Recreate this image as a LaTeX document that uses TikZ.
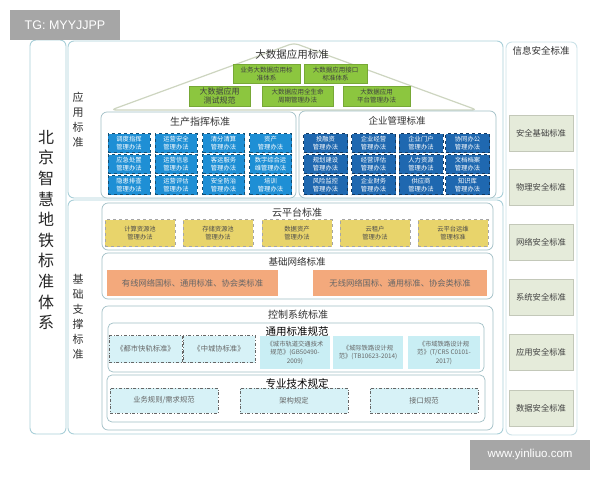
\documentclass[tikz,border=0pt]{standalone}
\usepackage{fontspec}
\setmainfont{Noto Sans CJK SC}
\newfontfamily\wmfont{Liberation Sans}
\usepackage{tikz}

\definecolor{framec}{HTML}{A9CFD8}
\definecolor{roofc}{HTML}{CDD5C0}
\definecolor{bdgreen}{HTML}{8CC63F}
\definecolor{prodblue}{HTML}{1E8FD5}
\definecolor{entblue}{HTML}{1F68B0}
\definecolor{cloudy}{HTML}{E8D46B}
\definecolor{neto}{HTML}{F3A97C}
\definecolor{ctrlc}{HTML}{C9EEF4}
\definecolor{secg}{HTML}{E5EBDA}
\definecolor{wmgray}{HTML}{A6A6A6}

\begin{document}
\begin{tikzpicture}[x=1pt,y=-1pt,
		panel/.style={draw=framec,line width=0.9pt,rounded corners=6pt,fill=white},
		subpanel/.style={draw=framec!80!gray,line width=0.7pt,rounded corners=6pt,fill=white},
		roof/.style={draw=roofc,line width=1.2pt,rounded corners=5pt,fill=white},
		title/.style={text=black!80,font=\fontsize{10}{12}\selectfont},
		vtext/.style={text=black!80,align=center,font=\fontsize{11}{15}\selectfont},
		greencell/.style={rectangle,draw=bdgreen!85!black,fill=bdgreen,text=black!75,align=center,inner sep=0pt,minimum height=19pt,font=\fontsize{6.5}{8}\selectfont},
		prodcell/.style={rectangle,draw=prodblue!55!black,dashed,fill=prodblue,text=white,align=center,inner sep=0pt,minimum width=42pt,minimum height=19pt,font=\fontsize{6.3}{8}\selectfont},
		entcell/.style={prodcell,fill=entblue,draw=entblue!55!black,minimum width=44pt},
		cloudcell/.style={rectangle,draw=gray!70,dashed,fill=cloudy,text=black!70,align=center,inner sep=0pt,minimum width=70pt,minimum height=27pt,font=\fontsize{6.3}{8.5}\selectfont},
		netcell/.style={rectangle,fill=neto,text=black!60,inner sep=0pt,minimum height=26pt,font=\fontsize{8.3}{10}\selectfont},
		stdcell/.style={rectangle,fill=ctrlc,text=black!60,align=center,inner sep=0pt,minimum width=70pt,minimum height=33pt,font=\fontsize{6.3}{8.5}\selectfont},
		dotcell/.style={stdcell,draw=black!60,dash dot,fill=ctrlc!75,minimum height=27pt,font=\fontsize{7.3}{9}\selectfont},
		seccell/.style={rectangle,fill=secg,draw=secg!85!black,text=black!75,inner sep=0pt,minimum width=64pt,minimum height=36pt,font=\fontsize{8.3}{10}\selectfont},
		wmark/.style={rectangle,fill=wmgray,text=white,inner sep=0pt,font=\wmfont}
	]
		\useasboundingbox (0,0) rectangle (600,480);
%		\draw[help lines,step=20] (0,0) grid (600,480);

		% frames
		\draw[panel] (30,40) rectangle (66,434);
		\draw[panel] (68,41) rectangle (503,198);
		\draw[panel] (68,200) rectangle (503,434);
		\draw[panel,draw=framec!60] (506,42) rectangle (577,435);
		\path (46,230) node(root) [align=center,text=black!85,font=\fontsize{16}{20.6}\selectfont] {北\\京\\智\\慧\\地\\铁\\标\\准\\体\\系};
		\path (78,120) node(app) [vtext] {应\\用\\标\\准};
		\path (78,317) node(base) [vtext] {基\\础\\支\\撑\\标\\准};

		% big data roof
		\draw[roof] (111,110) -- (294,43) -- (477,110) -- cycle;
		\path (292,55) node(bigdata) [title,font=\fontsize{10.5}{12}\selectfont] {大数据应用标准};
		\path (266.5,74) node(bd_sys) [greencell,minimum width=67pt] {业务大数据应用标\\准体系};
		\path (335.5,74) node(bd_api) [greencell,minimum width=63pt] {大数据应用接口\\标准体系};
		\path (219.5,96) node(bd_test) [greencell,minimum width=61pt,minimum height=20pt,font=\fontsize{8}{9.5}\selectfont] {大数据应用\\测试规范};
		\path (297.5,96) node(bd_life) [greencell,minimum width=71pt,minimum height=20pt] {大数据应用全生命\\周期管理办法};
		\path (376.5,96) node(bd_plat) [greencell,minimum width=67pt,minimum height=20pt] {大数据应用\\平台管理办法};

		% production and enterprise
		\draw[subpanel] (101,112) rectangle (296,198);
		\draw[subpanel] (299,111) rectangle (496,198);
		\path (200,122) node(prod) [title] {生产指挥标准};
		\path (397,121) node(ent) [title,font=\fontsize{9.5}{12}\selectfont] {企业管理标准};
		\path (129,143) node(p11) [prodcell] {调度指挥\\管理办法};
		\path (176,143) node(p12) [prodcell] {运营安全\\管理办法};
		\path (223.5,143) node(p13) [prodcell] {清分清算\\管理办法};
		\path (270.5,143) node(p14) [prodcell] {资产\\管理办法};
		\path (129,164) node(p21) [prodcell] {应急处置\\管理办法};
		\path (176,164) node(p22) [prodcell] {运营信息\\管理办法};
		\path (223.5,164) node(p23) [prodcell] {客运服务\\管理办法};
		\path (270.5,164) node(p24) [prodcell] {数字综合运\\维管理办法};
		\path (129,185) node(p31) [prodcell] {隐患排查\\管理办法};
		\path (176,185) node(p32) [prodcell] {运营评估\\管理办法};
		\path (223.5,185) node(p33) [prodcell] {安全防治\\管理办法};
		\path (270.5,185) node(p34) [prodcell] {培训\\管理办法};
		\path (325.5,143) node(e11) [entcell] {投融资\\管理办法};
		\path (373.5,143) node(e12) [entcell] {企业经营\\管理办法};
		\path (421,143) node(e13) [entcell] {企业门户\\管理办法};
		\path (467.5,143) node(e14) [entcell] {协同办公\\管理办法};
		\path (325.5,164) node(e21) [entcell] {规划建设\\管理办法};
		\path (373.5,164) node(e22) [entcell] {经营评估\\管理办法};
		\path (421,164) node(e23) [entcell] {人力资源\\管理办法};
		\path (467.5,164) node(e24) [entcell] {文档档案\\管理办法};
		\path (325.5,185) node(e31) [entcell] {风险监控\\管理办法};
		\path (373.5,185) node(e32) [entcell] {企业财务\\管理办法};
		\path (421,185) node(e33) [entcell] {供应商\\管理办法};
		\path (467.5,185) node(e34) [entcell] {知识库\\管理办法};

		% cloud platform
		\draw[subpanel] (102,203) rectangle (493,250);
		\path (297,213) node(cloud) [title] {云平台标准};
		\path (140,233) node(cl_calc) [cloudcell] {计算资源池\\管理办法};
		\path (218,233) node(cl_store) [cloudcell] {存储资源池\\管理办法};
		\path (297,233) node(cl_data) [cloudcell] {数据资产\\管理办法};
		\path (375,233) node(cl_user) [cloudcell] {云租户\\管理办法};
		\path (453,233) node(cl_ops) [cloudcell] {云平台运维\\管理标准};

		% basic network
		\draw[subpanel] (102,253) rectangle (493,299);
		\path (297,262) node(net) [title,font=\fontsize{9.5}{12}\selectfont] {基础网络标准};
		\path (192.5,283) node(net_wire) [netcell,minimum width=171pt] {有线网络国标、通用标准、协会类标准};
		\path (400,283) node(net_air) [netcell,minimum width=174pt] {无线网络国标、通用标准、协会类标准};

		% control system
		\draw[subpanel] (102,306) rectangle (493,430);
		\path (298,315) node(ctrl) [title] {控制系统标准};
		\draw[subpanel,rounded corners=5pt] (108,323) rectangle (484,372);
		\path (297,332) node(common) [title,text=black,font=\fontsize{10.5}{12}\selectfont] {通用标准规范};
		\path (145.5,349) node(std_city) [dotcell,minimum width=73pt] {《都市快轨标准》};
		\path (219,349) node(std_assoc) [dotcell,minimum width=72pt] {《中城协标准》};
		\path (295,352.5) node(std_gb) [stdcell] {《城市轨道交通技术\\规范》(GB50490-\\2009)};
		\path (368,352.5) node(std_tb) [stdcell] {《城际铁路设计规\\范》(TB10623-2014)};
		\path (444,352.5) node(std_crs) [stdcell,minimum width=72pt] {《市域铁路设计规\\范》(T/CRS C0101-\\2017)};
		\draw[subpanel,rounded corners=5pt] (107,375) rectangle (485,422);
		\path (297,383) node(tech) [title,text=black,font=\fontsize{10.5}{12}\selectfont] {专业技术规定};
		\path (164,400.5) node(tech_biz) [dotcell,minimum width=108pt,minimum height=25pt] {业务规则/需求规范};
		\path (294,400.5) node(tech_arch) [dotcell,minimum width=108pt,minimum height=25pt] {架构规定};
		\path (424,400.5) node(tech_if) [dotcell,minimum width=108pt,minimum height=25pt] {接口规范};

		% information security
		\path (541,51) node(sec) [title,font=\fontsize{9.5}{12}\selectfont] {信息安全标准};
		\path (541,133.5) node(sec_base) [seccell] {安全基础标准};
		\path (541,187.5) node(sec_phys) [seccell] {物理安全标准};
		\path (541,242.5) node(sec_net) [seccell] {网络安全标准};
		\path (541,297.5) node(sec_sys) [seccell] {系统安全标准};
		\path (541,352.5) node(sec_app) [seccell] {应用安全标准};
		\path (541,408) node(sec_data) [seccell] {数据安全标准};

		% watermarks
		\path (65,25) node(tg) [wmark,minimum width=110pt,minimum height=30pt,font=\wmfont\fontsize{12.5}{14}\selectfont] {TG: MYYJJPP};
		\path (530,455) node(site) [wmark,minimum width=120pt,minimum height=30pt,font=\wmfont\fontsize{11.5}{14}\selectfont] {www.yinliuo.com};
	\end{tikzpicture}
\end{document}
